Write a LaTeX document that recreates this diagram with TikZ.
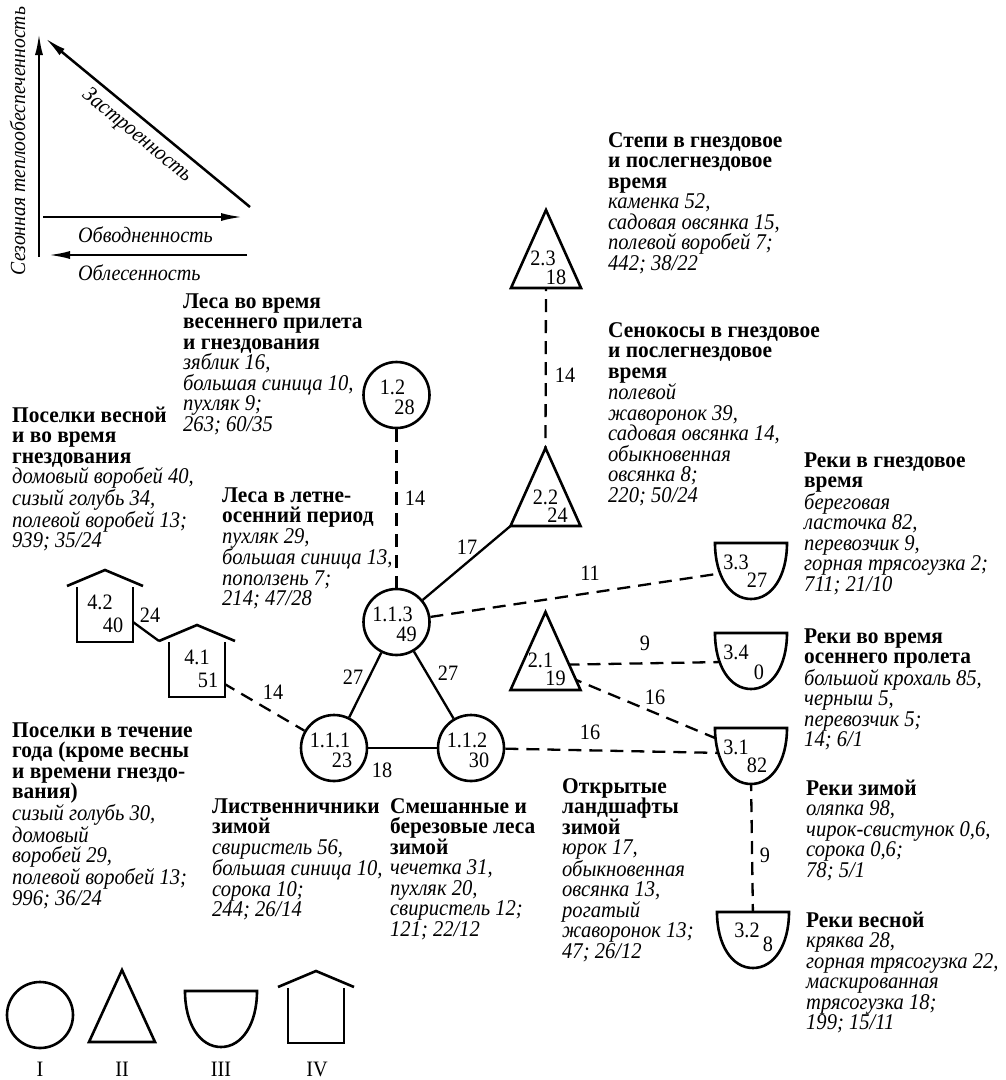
\documentclass[tikz,border=0pt]{standalone}
\usepackage{fontspec}
\setmainfont{Liberation Serif}[UprightFeatures={FakeStretch=0.92}, BoldFeatures={FakeStretch=0.95}, ItalicFeatures={FakeStretch=0.915}]
\usetikzlibrary{arrows.meta,calc}
\newcommand\tb[1]{\textbf{#1}}
\newcommand\ti[1]{\textit{#1}}
\newcommand\blk[1]{\parbox[t]{9cm}{\fontsize{22.5}{20.5}\selectfont\raggedright #1}}
\tikzset{
 shp/.style={line width=2.6pt, line join=miter},
 con/.style={line width=2.3pt},
 dsh/.style={con, dash pattern=on 13pt off 8pt},
 txt/.style={font=\fontsize{22}{20.5}\selectfont, inner sep=0pt},
 blk/.style={anchor=base west, inner sep=0pt},
 axis/.style={line width=2.5pt, -{Latex[length=22pt,width=8pt]}},
 cir/.style={circle, draw, shp, fill=white, minimum size=66pt, inner sep=0pt},
 pics/tri/.style={code={\draw[shp, fill=white] (0,-78) -- (35,0) -- (-35,0) -- cycle;}},
 pics/trileg/.style={code={\draw[shp, fill=white] (0,-72) -- (33,0) -- (-33,0) -- cycle;}},
 pics/bowl/.style={code={\draw[shp, fill=white] (-36,0) -- (36,0) .. controls (36,33) and (21,56) .. (0,56) .. controls (-21,56) and (-36,33) .. (-36,0) -- cycle;}},
 pics/house/.style={code={\fill[white] (-28,-55) rectangle (28,0); \draw[shp] (-38,-56) -- (0,-72) -- (38,-56); \draw[shp] (-28,-55) -- (-28,0) -- (28,0) -- (28,-55);}},
}
\begin{document}
\begin{tikzpicture}[x=1pt,y=-1pt]
\useasboundingbox (0,0) rectangle (1006,1080);
\fill[white] (0,0) rectangle (1006,1080);
% ---- axes diagram
\coordinate (a0) at (39,257); \coordinate (a1) at (39,33);
\coordinate (d0) at (250,207); \coordinate (d1) at (45,38);
\coordinate (h0) at (43,217); \coordinate (h1) at (243,217);
\coordinate (f0) at (247,255); \coordinate (f1) at (48,255);
\draw[axis] (a0) -- (a1);
\draw[axis] (d0) -- (d1);
\draw[axis] (h0) -- (h1);
\draw[axis] (f0) -- (f1);
\node[inner sep=0pt, font=\fontsize{21.5}{20}\selectfont, rotate=90, anchor=base] (axY) at (25,141) {\ti{Сезонная теплообеспеченность}};
\node[txt, rotate=-39.5] (axD) at (137,136) {\ti{Застроенность}};
\node[txt, anchor=base west] (axH) at (78,242) {\ti{Обводненность}};
\node[txt, anchor=base west] (axF) at (78,280) {\ti{Облесенность}};
% ---- circles
\node[cir] (c12) at (396.5,395) {};
\node[cir] (c113) at (396.5,622) {};
\node[cir] (c111) at (334,748) {};
\node[cir] (c112) at (471,748) {};
% ---- shape anchors
\coordinate (t23) at (546,288);
\coordinate (t22) at (545.5,526);
\coordinate (t21) at (545.5,690);
\coordinate (b33) at (751,543);
\coordinate (b34) at (751,633);
\coordinate (b31) at (751,728);
\coordinate (b32) at (753,912);
\coordinate (h41) at (197,697);
\coordinate (h42) at (105,642);
% attach points
\coordinate (t22bl) at ($(t22)+(-35,0)$);
\coordinate (t22ap) at ($(t22)+(0,-78)$);
\coordinate (t23in) at ($(t23)+(0,-10)$);
\coordinate (t21i1) at ($(t21)+(0,-25)$);
\coordinate (t21i2) at ($(t21)+(4.5,-21)$);
\coordinate (b33in) at ($(b33)+(-28,30)$);
\coordinate (b34in) at ($(b34)+(-28,29)$);
\coordinate (b31i1) at ($(b31)+(-30,12.5)$);
\coordinate (b31i2) at ($(b31)+(-27,25)$);
\coordinate (b31bt) at ($(b31)+(0,50)$);
\coordinate (b32in) at ($(b32)+(0,6)$);
\coordinate (h41in) at ($(h41)+(8,-24.5)$);
\coordinate (h41rf) at ($(h41)+(-38,-56)$);
\coordinate (h42rw) at ($(h42)+(28,-20)$);
% ---- connectors
\draw[dsh] (c12) -- (c113);
\draw[con] (c113) -- (t22bl);
\draw[dsh] (c113) -- (b33in);
\draw[dsh] (t23in) -- (t22ap);
\draw[dsh] (t21i1) -- (b34in);
\draw[dsh] (t21i2) -- (b31i1);
\draw[dsh] (c112) -- (b31i2);
\draw[dsh] (b31bt) -- (b32in);
\draw[con] (c113) -- (c111);
\draw[con] (c113) -- (c112);
\draw[con] (c111) -- (c112);
\draw[dsh] (h41in) -- (c111);
\draw[con] (h42rw) -- (h41rf);
% ---- shapes
\pic at (t23) {tri};
\pic at (t22) {tri};
\pic at (t21) {tri};
\pic at (b33) {bowl};
\pic at (b34) {bowl};
\pic at (b31) {bowl};
\pic at (b32) {bowl};
\pic at (h41) {house};
\pic at (h42) {house};
% ---- shape texts
\node[txt] (c12a) at ($(c12)+(-4,-8)$) {1.2};
\node[txt] (c12b) at ($(c12)+(8,12)$) {28};
\node[txt] (c113a) at ($(c113)+(-4,-8)$) {1.1.3};
\node[txt] (c113b) at ($(c113)+(10,12)$) {49};
\node[txt] (c111a) at ($(c111)+(-4,-8)$) {1.1.1};
\node[txt] (c111b) at ($(c111)+(8,12)$) {23};
\node[txt] (c112a) at ($(c112)+(-4,-8)$) {1.1.2};
\node[txt] (c112b) at ($(c112)+(8,12)$) {30};
\node[txt] (t23a) at ($(t23)+(-3,-30)$) {2.3};
\node[txt] (t23b) at ($(t23)+(10,-11)$) {18};
\node[txt] (t22a) at ($(t22)+(0,-29)$) {2.2};
\node[txt] (t22b) at ($(t22)+(12,-11)$) {24};
\node[txt] (t21a) at ($(t21)+(-5,-30)$) {2.1};
\node[txt] (t21b) at ($(t21)+(10,-12)$) {19};
\node[txt] (b33a) at ($(b33)+(-15,19)$) {3.3};
\node[txt] (b33b) at ($(b33)+(6,37)$) {27};
\node[txt] (b34a) at ($(b34)+(-15,19)$) {3.4};
\node[txt] (b34b) at ($(b34)+(8,39)$) {0};
\node[txt] (b31a) at ($(b31)+(-15,19)$) {3.1};
\node[txt] (b31b) at ($(b31)+(6,37)$) {82};
\node[txt] (b32a) at ($(b32)+(-6,18)$) {3.2};
\node[txt] (b32b) at ($(b32)+(15,32)$) {8};
\node[txt] (h41a) at ($(h41)+(0,-40)$) {4.1};
\node[txt] (h41b) at ($(h41)+(11,-17)$) {51};
\node[txt] (h42a) at ($(h42)+(-5,-40)$) {4.2};
\node[txt] (h42b) at ($(h42)+(8,-17)$) {40};
% ---- connector labels
\node[txt] (n14a) at (415,498) {14};
\node[txt] (n17) at (467,547) {17};
\node[txt] (n11) at (590,573) {11};
\node[txt] (n9a) at (645,643) {9};
\node[txt] (n16a) at (655,697) {16};
\node[txt] (n16b) at (590,732) {16};
\node[txt] (n9b) at (765,855) {9};
\node[txt] (n27a) at (353,677) {27};
\node[txt] (n27b) at (448,673) {27};
\node[txt] (n18) at (382,770) {18};
\node[txt] (n14b) at (273,692) {14};
\node[txt] (n24) at (150,615) {24};
\node[txt] (n14c) at (565,375) {14};
% ---- text blocks
\node[blk] (tA) at (608,147) {\blk{\tb{Степи в гнездовое}\\\tb{и послегнездовое}\\\tb{время}\\\ti{каменка 52,}\\\ti{садовая овсянка 15,}\\\ti{полевой воробей 7;}\\\ti{442; 38/22}}};
\node[blk] (tB) at (608,337) {\blk{\tb{Сенокосы в гнездовое}\\\tb{и послегнездовое}\\\tb{время}\\\ti{полевой}\\\ti{жаворонок 39,}\\\ti{садовая овсянка 14,}\\\ti{обыкновенная}\\\ti{овсянка 8;}\\\ti{220; 50/24}}};
\node[blk] (tC) at (183,308) {\blk{\tb{Леса во время}\\\tb{весеннего прилета}\\\tb{и гнездования}\\\ti{зяблик 16,}\\\ti{большая синица 10,}\\\ti{пухляк 9;}\\\ti{263; 60/35}}};
\node[blk] (tD) at (12,422) {\blk{\tb{Поселки весной}\\\tb{и во время}\\\tb{гнездования}\\\ti{домовый воробей 40,}\\\ti{сизый голубь 34,}\\\ti{полевой воробей 13;}\\\ti{939; 35/24}}};
\node[blk] (tE) at (222,502) {\blk{\tb{Леса в летне-}\\\tb{осенний период}\\\ti{пухляк 29,}\\\ti{большая синица 13,}\\\ti{поползень 7;}\\\ti{214; 47/28}}};
\node[blk] (tF) at (12,737) {\blk{\tb{Поселки в течение}\\\tb{года (кроме весны}\\\tb{и времени гнездо-}\\\tb{вания)}\\\ti{сизый голубь 30,}\\\ti{домовый}\\\ti{воробей 29,}\\\ti{полевой воробей 13;}\\\ti{996; 36/24}}};
\node[blk] (tG) at (212,813) {\blk{\tb{Лиственничники}\\\tb{зимой}\\\ti{свиристель 56,}\\\ti{большая синица 10,}\\\ti{сорока 10;}\\\ti{244; 26/14}}};
\node[blk] (tH) at (390,813) {\blk{\tb{Смешанные и}\\\tb{березовые леса}\\\tb{зимой}\\\ti{чечетка 31,}\\\ti{пухляк 20,}\\\ti{свиристель 12;}\\\ti{121; 22/12}}};
\node[blk] (tI) at (562,793) {\blk{\tb{Открытые}\\\tb{ландшафты}\\\tb{зимой}\\\ti{юрок 17,}\\\ti{обыкновенная}\\\ti{овсянка 13,}\\\ti{рогатый}\\\ti{жаворонок 13;}\\\ti{47; 26/12}}};
\node[blk] (tJ) at (804,467) {\blk{\tb{Реки в гнездовое}\\\tb{время}\\\ti{береговая}\\\ti{ласточка 82,}\\\ti{перевозчик 9,}\\\ti{горная трясогузка 2;}\\\ti{711; 21/10}}};
\node[blk] (tK) at (804,643) {\blk{\tb{Реки во время}\\\tb{осеннего пролета}\\\ti{большой крохаль 85,}\\\ti{черныш 5,}\\\ti{перевозчик 5;}\\\ti{14; 6/1}}};
\node[blk] (tL) at (806,795) {\blk{\tb{Реки зимой}\\\ti{оляпка 98,}\\\ti{чирок-свистунок 0,6,}\\\ti{сорока 0,6;}\\\ti{78; 5/1}}};
\node[blk] (tM) at (806,927) {\blk{\tb{Реки весной}\\\ti{кряква 28,}\\\ti{горная трясогузка 22,}\\\ti{маскированная}\\\ti{трясогузка 18;}\\\ti{199; 15/11}}};
% ---- legend
\node[cir] (gI) at (40,1015) {};
\coordinate (gII) at (122,1042);
\coordinate (gIII) at (221,991);
\coordinate (gIV) at (316,1043);
\pic at (gII) {trileg};
\pic at (gIII) {bowl};
\pic at (gIV) {house};
\node[txt] (lI) at (40,1069) {I};
\node[txt] (lII) at (122,1069) {II};
\node[txt] (lIII) at (221,1069) {III};
\node[txt] (lIV) at (317,1069) {IV};
\end{tikzpicture}
\end{document}
